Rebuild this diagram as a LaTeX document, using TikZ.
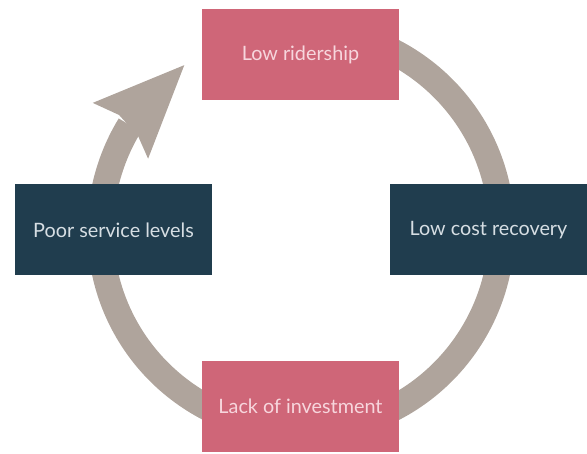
\documentclass[tikz,border=0pt]{standalone}
\usepackage{fontspec}
\setmainfont{Lato}
\usepackage{xcolor}
\usepackage{tikz}
\usetikzlibrary{positioning,calc}

\definecolor{boxrose}{RGB}{207,102,120}
\definecolor{boxnavy}{RGB}{32,61,78}
\definecolor{ringtaupe}{RGB}{175,164,156}
\definecolor{textrose}{RGB}{247,214,221}
\definecolor{textnavy}{RGB}{214,222,227}

\begin{document}
\begin{tikzpicture}[
        x=1pt, y=1pt,
        node distance=2cm,
        rosebox/.style={rectangle, fill=boxrose, text=textrose, minimum width=197pt, minimum height=91pt, inner sep=0pt, outer sep=0pt, font=\fontsize{19.8}{22}\selectfont},
        navybox/.style={rectangle, fill=boxnavy, text=textnavy, minimum width=197pt, minimum height=91pt, inner sep=0pt, outer sep=0pt, font=\fontsize{19.8}{22}\selectfont},
        ring/.style={draw=ringtaupe, line width=26pt}
    ]
    \useasboundingbox (0,0) rectangle (587,-454);

    % Cycle ring with arrow head
    \coordinate (hub) at (301,-230);
    \draw [ring] ($(hub)+(100:200.7)$) arc [start angle=100, end angle=-211.5, radius=200.7];
    \fill [ringtaupe] ($(hub)+(125.3:202)$) -- ($(hub)+(148.6:244)$) -- ($(hub)+(147.7:215.3)$)
        -- ($(hub)+(150:188.2)$) -- ($(hub)+(155:168.7)$) -- cycle;

    % Stages
    \node [rosebox] (ridership) at (300.5,-54.5) {Low ridership};
    \node [rosebox, below=261pt of ridership] (investment) {Lack of investment};
    \node [navybox] (service) at (113.5,-230) {Poor service levels};
    \node [navybox, right=178pt of service] (recovery) {Low cost recovery};

\end{tikzpicture}
\end{document}
